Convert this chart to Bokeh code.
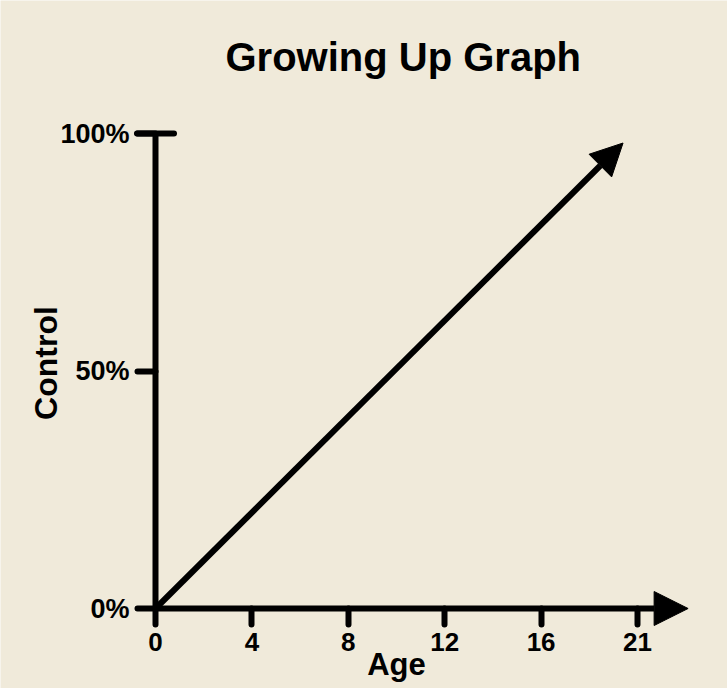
from bokeh.plotting import figure
from bokeh.models import Range1d, FixedTicker, Arrow, NormalHead, TeeHead, Label
from bokeh.embed import file_html
from bokeh.resources import INLINE

# ---- data ----
title_text = "Growing Up Graph"
x_label = "Age"
y_label = "Control"
age_tick_pos = [0, 4, 8, 12, 16, 20]
age_tick_labels = ["0", "4", "8", "12", "16", "21"]
control_ticks = [0, 50, 100]
control_tick_labels = ["0%", "50%", "100%"]
line_age = [0, 19.4]
line_control = [0, 98]
x_axis_end = 22.1

BG = "#F0EADA"
FONT = "Liberation Sans"
INK = "#000000"

# ---- layout (pixels) ----
W, H = 727, 688
ORIGIN_X, ORIGIN_Y = 155, 608          # pixel position of (age 0, control 0)
PX_PER_AGE = 24.1
PX_PER_PCT = 4.75

p = figure(frame_width=W, frame_height=H,
           x_range=Range1d(-ORIGIN_X / PX_PER_AGE, (W - ORIGIN_X) / PX_PER_AGE),
           y_range=Range1d(-(H - ORIGIN_Y) / PX_PER_PCT, ORIGIN_Y / PX_PER_PCT),
           output_backend="svg", toolbar_location=None,
           min_border=0, min_border_left=0, min_border_right=0,
           min_border_top=0, min_border_bottom=0)

p.background_fill_color = BG
p.border_fill_color = BG
p.outline_line_color = None
p.xgrid.visible = False
p.ygrid.visible = False

# x axis (drawn at control = 0)
xa = p.xaxis[0]
xa.fixed_location = 0
xa.bounds = (age_tick_pos[0], age_tick_pos[-1])
xa.ticker = FixedTicker(ticks=age_tick_pos)
xa.major_label_overrides = {k: v for k, v in zip(age_tick_pos, age_tick_labels)}
xa.axis_line_color = None
xa.minor_tick_line_color = None
xa.major_tick_line_color = INK
xa.major_tick_line_width = 6
xa.major_tick_line_cap = "round"
xa.major_tick_in = 0
xa.major_tick_out = 16
xa.major_label_standoff = 8
xa.major_label_text_font = FONT
xa.major_label_text_font_size = "26px"
xa.major_label_text_font_style = "bold"
xa.major_label_text_color = INK

# y axis (drawn at age = 0)
ya = p.yaxis[0]
ya.fixed_location = 0
ya.bounds = (control_ticks[0], control_ticks[-1])
ya.ticker = FixedTicker(ticks=control_ticks)
ya.major_label_overrides = {k: v for k, v in zip(control_ticks, control_tick_labels)}
ya.axis_line_color = None
ya.minor_tick_line_color = None
ya.major_tick_line_color = INK
ya.major_tick_line_width = 6
ya.major_tick_line_cap = "round"
ya.major_tick_in = 0
ya.major_tick_out = 18
ya.major_label_standoff = 8
ya.major_label_text_font = FONT
ya.major_label_text_font_size = "27px"
ya.major_label_text_font_style = "bold"
ya.major_label_text_color = INK

# title and axis titles
p.add_layout(Label(x=age_tick_pos[0], y=control_ticks[-1], x_offset=70, y_offset=77,
                   text=title_text, text_align="left", text_baseline="alphabetic",
                   text_font=FONT, text_font_size="40px", text_font_style="bold",
                   text_color=INK))
p.add_layout(Label(x=(age_tick_pos[0] + age_tick_pos[-1]) / 2, y=control_ticks[0], y_offset=-56,
                   text=x_label, text_align="center", text_baseline="alphabetic",
                   text_font=FONT, text_font_size="31px", text_font_style="bold",
                   text_color=INK))
p.add_layout(Label(x=age_tick_pos[0], y=control_ticks[1], x_offset=-110, y_offset=8,
                   angle=90, angle_units="deg",
                   text=y_label, text_align="center", text_baseline="alphabetic",
                   text_font=FONT, text_font_size="32px", text_font_style="bold",
                   text_color=INK))

# axis lines drawn as arrows
p.add_layout(Arrow(x_start=0, y_start=control_ticks[0], x_end=0, y_end=control_ticks[-1],
                   line_color=INK, line_width=6,
                   end=TeeHead(size=37, line_width=6, line_color=INK, line_cap="round")))
p.add_layout(Arrow(x_start=0, y_start=0, x_end=x_axis_end, y_end=0,
                   line_color=INK, line_width=6,
                   end=NormalHead(size=34, fill_color=INK, line_color=INK, line_width=1)))

# growth line
p.add_layout(Arrow(x_start=line_age[0], y_start=line_control[0],
                   x_end=line_age[1], y_end=line_control[1],
                   line_color=INK, line_width=6,
                   end=NormalHead(size=32, fill_color=INK, line_color=INK, line_width=1)))

open("out.html", "w").write(file_html(p, INLINE))
